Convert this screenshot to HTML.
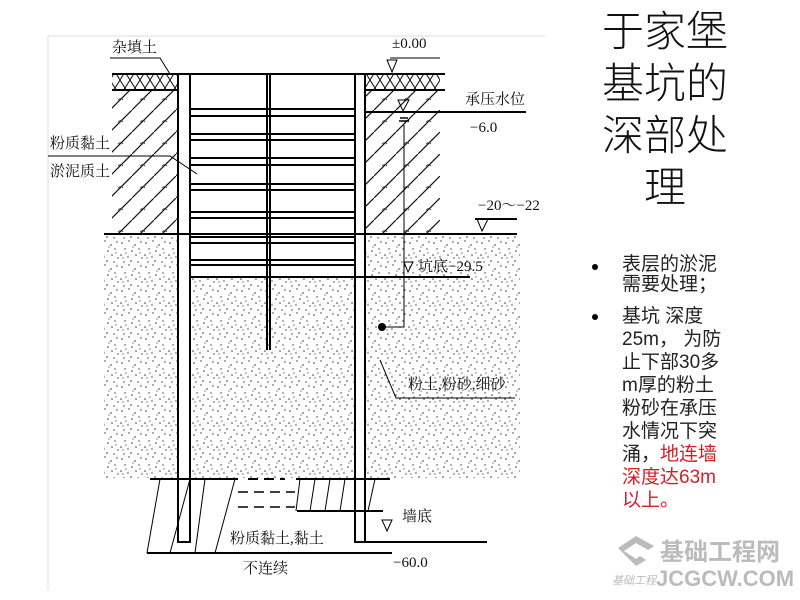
<!DOCTYPE html>
<html><head><meta charset="utf-8"><style>
html,body{margin:0;padding:0;background:#fff}
body{width:800px;height:600px;position:relative;overflow:hidden;font-family:"Liberation Sans","Noto Sans CJK SC",sans-serif}
.t{position:absolute;font-size:42px;line-height:52px;color:#111;left:590px;top:6px;width:150px;text-align:center;font-weight:300}
.b{position:absolute;left:622px;font-size:19px;color:#222;line-height:23px;width:150px}
.dot{position:absolute;left:592px;width:6px;height:6px;border-radius:3px;background:#000}
</style></head><body>
<svg width="800" height="600" style="position:absolute;left:0;top:0" font-family="Liberation Serif,Noto Serif CJK SC,serif">
<defs>
<pattern id="h" width="22" height="22" patternUnits="userSpaceOnUse">
<path d="M0 22 L22 0" stroke="#111" stroke-width="1.2"/>
<path d="M8 12 q3 -3 5 0" stroke="#333" fill="none" stroke-width="0.8"/>
</pattern>
<pattern id="s" width="24" height="24" patternUnits="userSpaceOnUse">
<g fill="#333">
<circle cx="2" cy="3" r="0.8"/><circle cx="9" cy="1" r="0.7"/><circle cx="15" cy="5" r="0.8"/><circle cx="21" cy="2" r="0.7"/>
<circle cx="5" cy="9" r="0.7"/><circle cx="12" cy="11" r="0.8"/><circle cx="19" cy="9" r="0.7"/><circle cx="1" cy="15" r="0.8"/>
<circle cx="8" cy="17" r="0.7"/><circle cx="16" cy="15" r="0.8"/><circle cx="22" cy="18" r="0.7"/><circle cx="4" cy="22" r="0.7"/>
<circle cx="11" cy="21" r="0.8"/><circle cx="18" cy="22" r="0.7"/><circle cx="13" cy="7" r="0.6"/><circle cx="6" cy="13" r="0.6"/>
<circle cx="20" cy="13" r="0.6"/><circle cx="3" cy="18" r="0.6"/>
</g></pattern>
<pattern id="x" width="10" height="16" patternUnits="userSpaceOnUse"><path d="M0 0 L10 16 M10 0 L0 16" stroke="#111" stroke-width="1"/></pattern>
</defs>
<path d="M48 36 H545 M48 36 V590" stroke="#ddd" stroke-width="1"/>
<rect x="104" y="235" width="416" height="243" fill="url(#s)"/>
<rect x="190" y="235" width="165" height="42" fill="#fff"/>
<rect x="112" y="90" width="66" height="144" fill="url(#h)"/>
<rect x="365" y="90" width="75" height="144" fill="url(#h)"/>
<rect x="112" y="75" width="66" height="15" fill="url(#x)"/>
<rect x="365" y="75" width="75" height="15" fill="url(#x)"/>
<rect x="178" y="74" width="12" height="468" fill="#fff"/>
<rect x="355" y="74" width="10" height="468" fill="#fff"/>
<g stroke="#000" stroke-width="2" fill="none">
<path d="M112 74 H445 M112 90 H178 M365 90 H445"/>
<path d="M178 74 V542 H190 V74 M355 74 V542 H365 V74"/>
<path d="M267 74 V350 M270 74 V350"/>
<path d="M190 109 H355 M190 116 H355 M190 134 H355 M190 140 H355 M190 158 H355 M190 165 H355 M190 184 H355 M190 190 H355 M190 212 H355 M190 218 H355 M190 237 H355 M190 243 H355 M190 260 H355 M190 265 H355 M190 277 H470"/>
<path d="M104 234 H517"/>
<path d="M365 112 H526 M475 219 H517"/>
<path d="M150 479 H238 M296 479 H390 M297 511 H383 M365 542 H487 M147 553 H392"/>
<path d="M248 479 H285" stroke-dasharray="10 6"/>
<path d="M238 492 H295 M238 507 H295" stroke-dasharray="10 6" stroke-width="1.5"/>
</g>
<g stroke="#000" stroke-width="1" fill="none">
<path d="M390 58 H440 M387 60 L397 60 L392 72 Z"/>
<path d="M477 219 L488 219 L482 231 Z M398 100 L409 100 L403 111 Z M404 262 L413 262 L408 272 Z M382 520 L392 520 L387 531 Z"/>
<path d="M110 58 H160 L170 74"/>
<path d="M48 156 H170 L197 174"/>
<path d="M404 125 V327 H384"/>
<path d="M380 360 L396 398 H515"/>
<path d="M160 479 L147 553 M190 479 L170 553 M205 479 L195 553 M235 479 L215 553 M300 479 L296 511 M315 479 L310 511 M330 479 L325 511 M345 479 L340 511 M375 479 L368 511"/>
<path d="M400 118 h8 M399 121 h10" stroke-width="1.5"/>
</g>
<circle cx="382" cy="327" r="4" fill="#000"/>
<g font-size="15" fill="#111">
<text x="112" y="52">杂填土</text>
<text x="392" y="48">±0.00</text>
<text x="465" y="104">承压水位</text>
<text x="470" y="132">−6.0</text>
<text x="478" y="210">−20～−22</text>
<text x="418" y="271">坑底−29.5</text>
<text x="50" y="148">粉质黏土</text>
<text x="50" y="176">淤泥质土</text>
<text x="408" y="389">粉土,粉砂,细砂</text>
<text x="402" y="521">墙底</text>
<text x="230" y="543">粉质黏土,黏土</text>
<text x="393" y="567">−60.0</text>
<text x="243" y="573">不连续</text>
</g>
<g fill="#bbb" font-family="Liberation Sans,Noto Sans CJK SC,sans-serif">
<path d="M618 548 l18 -12 l18 10 l-6 4 l-12 -7 l-12 8 l12 8 l4 -3 l6 4 l-10 6 z"/>
<text x="660" y="560" font-size="24" font-weight="bold">基础工程网</text>
<text x="656" y="586" font-size="22" font-weight="bold">JCGCW.COM</text>
<text x="612" y="584" font-size="11" font-style="italic">基础工程</text>
</g>
</svg>
<div class="t">于家堡<br>基坑的<br>深部处<br>理</div>
<div class="dot" style="top:264px"></div>
<div class="b" style="top:255px;line-height:20px">表层的淤泥<br>需要处理；</div>
<div class="dot" style="top:314px"></div>
<div class="b" style="top:305px">基坑 深度<br>25m， 为防<br>止下部30多<br>m厚的粉土<br>粉砂在承压<br>水情况下突<br>涌，<span style="color:#d0202a">地连墙<br>深度达63m<br>以上。</span></div>
</body></html>
